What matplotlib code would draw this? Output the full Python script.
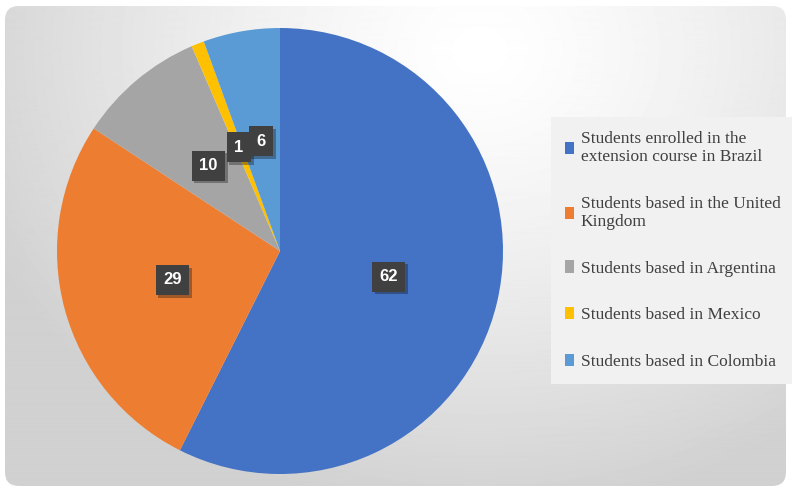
import numpy as np
import matplotlib.pyplot as plt
from matplotlib.patches import FancyBboxPatch
import matplotlib.patheffects as pe

# Student origin counts
groups = [
    "Students enrolled in the\nextension course in Brazil",
    "Students based in the United\nKingdom",
    "Students based in Argentina",
    "Students based in Mexico",
    "Students based in Colombia",
]
counts = [62, 29, 10, 1, 6]
colors = ["#4472C4", "#ED7D31", "#A5A5A5", "#FFC000", "#5B9BD5"]

W, H = 792, 490
fig = plt.figure(figsize=(W / 100, H / 100), dpi=100)
fig.patch.set_facecolor("white")

# Chart area: rounded card with a radial grey gradient
bg = fig.add_axes([0, 0, 1, 1])
bg.set_xlim(0, W)
bg.set_ylim(H, 0)
bg.axis("off")
yy, xx = np.mgrid[0:H, 0:W]
d = np.sqrt(((xx - 480) / 540.0) ** 2 + ((yy - 50) / 460.0) ** 2)
shade = 1.0 - 0.18 * np.clip(d, 0, 1) ** 1.3
img = bg.imshow(shade, cmap="gray", vmin=0, vmax=1, extent=[0, W, H, 0],
                interpolation="bilinear", zorder=0)
card = FancyBboxPatch((5, 6), 781, 480, boxstyle="round,pad=0,rounding_size=14",
                      fc="none", ec="none", transform=bg.transData)
bg.add_patch(card)
img.set_clip_path(card)

# Pie
cx, cy, r = 280, 251, 223
ax = fig.add_axes([(cx - r) / W, (H - cy - r) / H, 2 * r / W, 2 * r / H])
total = sum(counts)
wedges, _, autotexts = ax.pie(
    counts, colors=colors, startangle=90, counterclock=False,
    autopct=lambda p: f"{p * total / 100:.0f}", pctdistance=0.5,
    wedgeprops=dict(linewidth=0),
    textprops=dict(color="white", fontsize=12, fontweight="bold",
                   family="Liberation Sans"),
)
ax.set_xlim(-1, 1)
ax.set_ylim(-1, 1)
ax.set_aspect("equal")

for t in autotexts:
    t.set_bbox(dict(boxstyle="square,pad=0.45", fc="#404040", ec="none"))
    t.get_bbox_patch().set_path_effects(
        [pe.SimplePatchShadow(offset=(2, -2), alpha=0.35), pe.Normal()])

# Legend on the right
leg = fig.legend(
    wedges, groups, loc="upper left",
    bbox_to_anchor=(551 / W, 1 - 117 / H), borderaxespad=0,
    prop=dict(family="Liberation Serif", size=12.5),
    labelcolor="#404040", frameon=True, fancybox=False,
    handlelength=0.55, handleheight=0.7, handletextpad=0.35,
    labelspacing=1.75, borderpad=0.8,
)
leg.get_frame().set_facecolor("#f1f1f1")
leg.get_frame().set_edgecolor("none")
leg.get_frame().set_alpha(1)

fig.savefig("out.png", dpi=100)
